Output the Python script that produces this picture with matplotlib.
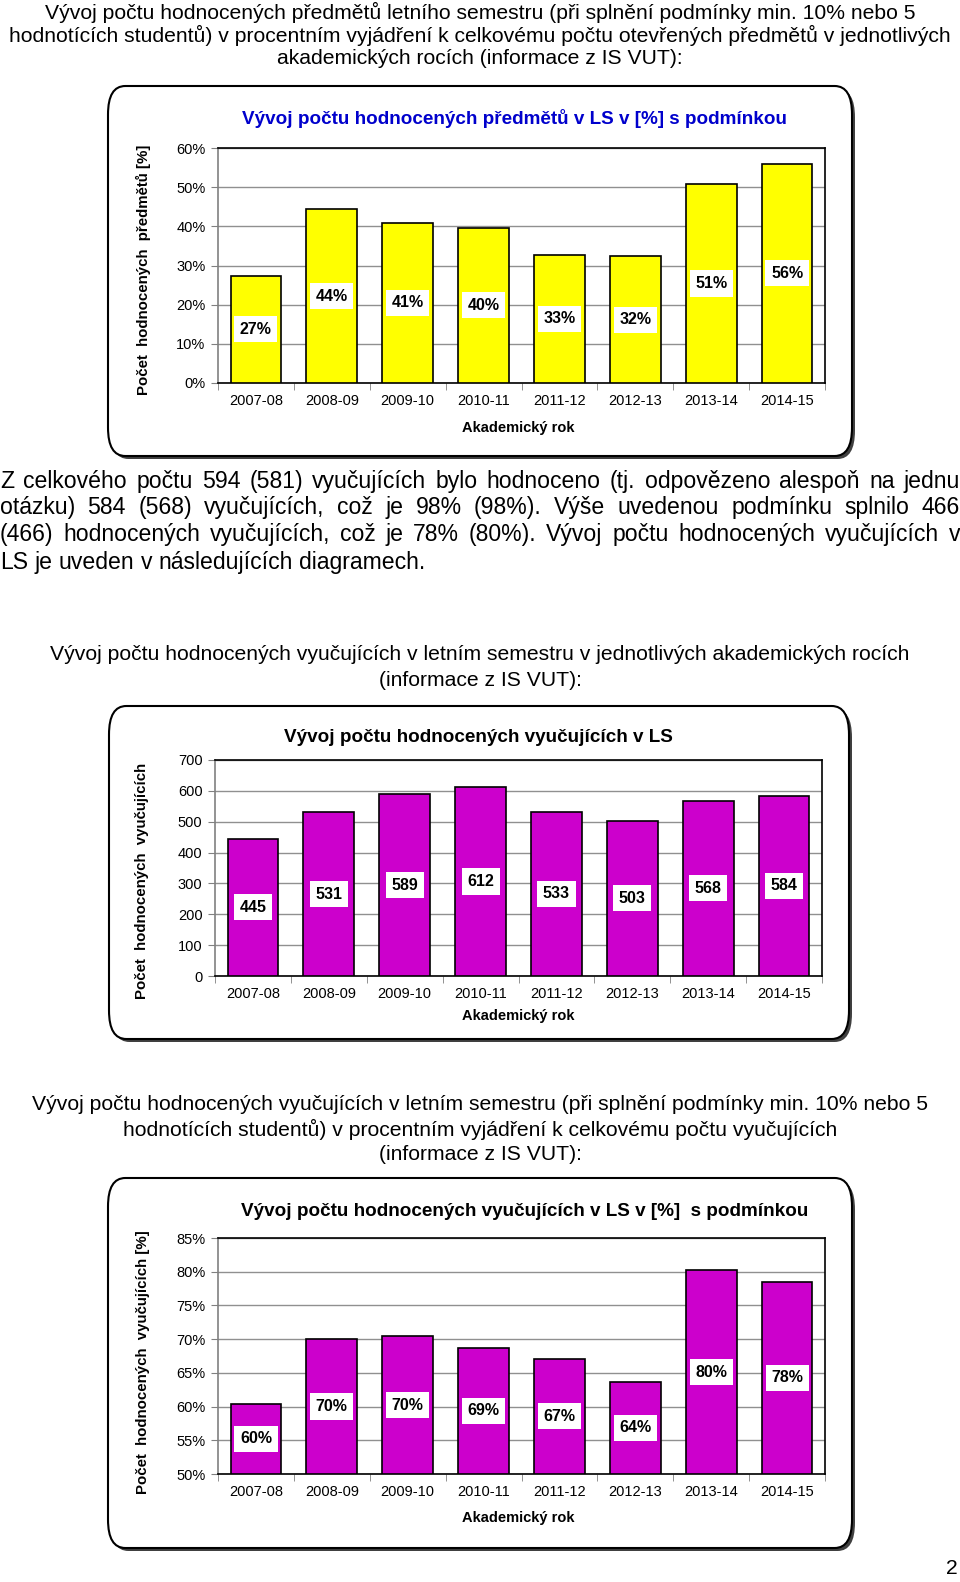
import matplotlib.pyplot as plt
import numpy as np
from matplotlib.patches import FancyBboxPatch

plt.rcParams['font.family'] = ['Liberation Sans', 'DejaVu Sans']

W, H = 960, 1582

years = ['2007-08', '2008-09', '2009-10', '2010-11', '2011-12', '2012-13', '2013-14', '2014-15']
subj_pct = [27.4, 44.3, 40.9, 39.7, 32.7, 32.3, 50.8, 56.0]
subj_pct_lbl = ['27%', '44%', '41%', '40%', '33%', '32%', '51%', '56%']
teach_cnt = [445, 531, 589, 612, 533, 503, 568, 584]
teach_pct = [60.4, 70.0, 70.4, 68.7, 67.1, 63.7, 80.2, 78.5]
teach_pct_lbl = ['60%', '70%', '70%', '69%', '67%', '64%', '80%', '78%']

top_lines = ['Vývoj počtu hodnocených předmětů letního semestru (při splnění podmínky min. 10% nebo 5',
             'hodnotících studentů) v procentním vyjádření k celkovému počtu otevřených předmětů v jednotlivých',
             'akademických rocích (informace z IS VUT):']
para_lines = ['Z celkového počtu 594 (581) vyučujících bylo hodnoceno (tj. odpovězeno alespoň na jednu',
              'otázku) 584 (568) vyučujících, což je 98% (98%). Výše uvedenou podmínku splnilo 466',
              '(466) hodnocených vyučujících, což je 78% (80%). Vývoj počtu hodnocených vyučujících v',
              'LS je uveden v následujících diagramech.']
mid_lines = ['Vývoj počtu hodnocených vyučujících v letním semestru v jednotlivých akademických rocích',
             '(informace z IS VUT):']
low_lines = ['Vývoj počtu hodnocených vyučujících v letním semestru (při splnění podmínky min. 10% nebo 5',
             'hodnotících studentů) v procentním vyjádření k celkovému počtu vyučujících',
             '(informace z IS VUT):']

fig = plt.figure(figsize=(W / 100, H / 100), dpi=100)


def fx(x):
    return x / W


def fy(y):
    return 1 - y / H


def centered(lines, ys, size=15.2):
    for s, y in zip(lines, ys):
        fig.text(fx(480), fy(y), s, ha='center', va='center', fontsize=size)


def justified(lines, ys, x0, x1, size=16.6):
    # words placed one by one on a common baseline, gaps stretched to the full width
    r = fig.canvas.get_renderer()
    for i, (s, y) in enumerate(zip(lines, ys)):
        words = s.split(' ')
        ts = [fig.text(fx(x0), fy(y), w, ha='left', va='baseline', fontsize=size) for w in words]
        widths = [t.get_window_extent(r).width for t in ts]
        if i == len(lines) - 1:
            sp = fig.text(0, 0, 'a a', fontsize=size)
            sp2 = fig.text(0, 0, 'aa', fontsize=size)
            gap = sp.get_window_extent(r).width - sp2.get_window_extent(r).width
            sp.remove()
            sp2.remove()
        else:
            gap = (x1 - x0 - sum(widths)) / (len(words) - 1)
        x = x0
        for t, w in zip(ts, widths):
            t.set_x(fx(x))
            x += w + gap


def frame(x0, y0, x1, y1):
    sh = FancyBboxPatch((fx(x0 + 3), fy(y1 + 3)), fx(x1 - x0), (y1 - y0) / H,
                        boxstyle='round,pad=0,rounding_size=0.018', transform=fig.transFigure,
                        facecolor='#404040', edgecolor='none', zorder=-3)
    fr = FancyBboxPatch((fx(x0), fy(y1)), fx(x1 - x0), (y1 - y0) / H,
                        boxstyle='round,pad=0,rounding_size=0.018', transform=fig.transFigure,
                        facecolor='white', edgecolor='black', linewidth=1.5, zorder=-2)
    fig.patches.extend([sh, fr])


def chart(box, values, labels, color, ymin, ymax, step, fmt):
    x0, y0, x1, y1 = box
    ax = fig.add_axes([fx(x0), fy(y1), fx(x1 - x0), (y1 - y0) / H])
    x = np.arange(len(years))
    ax.bar(x, np.array(values) - ymin, bottom=ymin, width=0.67, color=color,
           edgecolor='black', linewidth=1.2, zorder=3)
    for xi, v, lb in zip(x, values, labels):
        ax.text(xi, (ymin + v) / 2, lb, ha='center', va='center', fontsize=11.5,
                fontweight='bold', zorder=4,
                bbox=dict(facecolor='white', edgecolor='none', pad=4))
    ax.set_xlim(-0.5, len(years) - 0.5)
    ax.set_ylim(ymin, ymax)
    yt = np.arange(ymin, ymax + step / 2, step)
    ax.set_yticks(yt)
    ax.set_yticklabels([fmt(v) for v in yt], fontsize=10.5)
    ax.set_xticks(x)
    ax.set_xticklabels(years, fontsize=10.5)
    ax.set_xticks(np.arange(-0.5, len(years)), minor=True)
    ax.tick_params(axis='x', which='major', length=0, pad=8)
    ax.tick_params(axis='x', which='minor', length=5, color='#808080')
    ax.tick_params(axis='y', length=5, color='#808080', pad=4)
    ax.grid(axis='y', color='#909090', linewidth=1, zorder=1)
    ax.set_axisbelow(True)
    ax.set_facecolor('white')
    for s in ax.spines.values():
        s.set_color('black')
        s.set_linewidth(1.2)
    ax.spines['left'].set_color('#808080')
    return ax


centered(top_lines, [12, 35, 58.5])

frame(108, 86, 852, 456)
chart((218, 148, 825, 383), subj_pct, subj_pct_lbl, '#FFFF00', 0, 60, 10, lambda v: f'{v:.0f}%')
fig.text(fx(514), fy(119), 'Vývoj počtu hodnocených předmětů v LS v [%] s podmínkou', ha='center',
         va='center', fontsize=13.6, fontweight='bold', color='#0000CC')
fig.text(fx(143), fy(270), 'Počet  hodnocených  předmětů [%]', rotation=90, ha='center', va='center',
         fontsize=10.8, fontweight='bold')
fig.text(fx(518), fy(428), 'Akademický rok', ha='center', va='center', fontsize=10.5, fontweight='bold')

justified(para_lines, [488, 514, 541, 569], 0, 960)

centered(mid_lines, [655, 680])

frame(109, 706, 849, 1039)
chart((215, 760, 822, 976), teach_cnt, [str(v) for v in teach_cnt], '#CC00CC', 0, 700, 100,
      lambda v: f'{v:.0f}')
fig.text(fx(478), fy(738), 'Vývoj počtu hodnocených vyučujících v LS', ha='center', va='center',
         fontsize=13.6, fontweight='bold')
fig.text(fx(142), fy(881), 'Počet  hodnocených  vyučujících', rotation=90, ha='center', va='center',
         fontsize=10.8, fontweight='bold')
fig.text(fx(518), fy(1016), 'Akademický rok', ha='center', va='center', fontsize=10.5, fontweight='bold')

centered(low_lines, [1105, 1129, 1154])

frame(108, 1178, 852, 1548)
chart((218, 1238, 825, 1474), teach_pct, teach_pct_lbl, '#CC00CC', 50, 85, 5, lambda v: f'{v:.0f}%')
fig.text(fx(525), fy(1211), 'Vývoj počtu hodnocených vyučujících v LS v [%]  s podmínkou', ha='center',
         va='center', fontsize=13.6, fontweight='bold')
fig.text(fx(143), fy(1362), 'Počet  hodnocených  vyučujících [%]', rotation=90, ha='center', va='center',
         fontsize=10.8, fontweight='bold')
fig.text(fx(518), fy(1518), 'Akademický rok', ha='center', va='center', fontsize=10.5, fontweight='bold')

fig.text(fx(958), fy(1569), '2', ha='right', va='center', fontsize=15.2)

fig.savefig('out.png', dpi=100)
